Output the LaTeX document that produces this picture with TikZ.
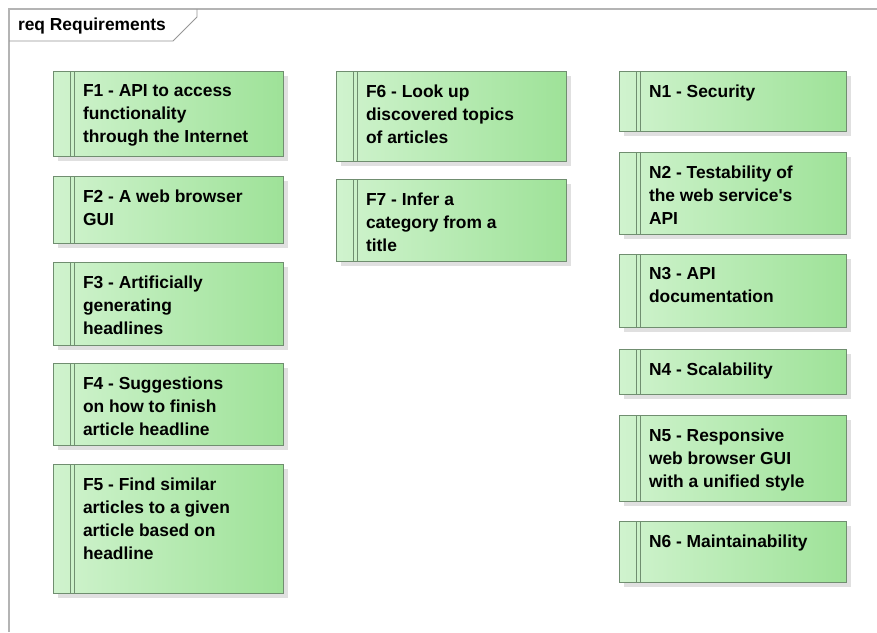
\documentclass[tikz,border=0pt]{standalone}
\usepackage{fontspec}
\setmainfont{Liberation Sans}[Ligatures=TeXOff]
\definecolor{gl}{RGB}{208,243,206}
\definecolor{gr}{RGB}{158,226,152}
\definecolor{bd}{RGB}{112,142,112}
\definecolor{sh}{RGB}{224,224,224}
\definecolor{fr}{RGB}{180,180,180}
\definecolor{tabc}{RGB}{150,150,150}
\tikzset{
  reqbody/.style={rectangle, draw=bd, line width=0.9pt, left color=gl, right color=gr, inner sep=0pt, outer sep=0pt},
  stripe/.style={draw=bd, line width=0.6pt},
  reqtext/.style={inner sep=0pt, outer sep=0pt, align=left, font=\bfseries\fontsize{17.4}{23}\selectfont},
  framel/.style={draw=fr, line width=1.6pt},
  tabl/.style={draw=tabc, line width=0.8pt},
  shadowc/.style={fill=sh}
}
\newcommand\reqbox[6]{%
  \fill[shadowc] (#2+5,-#3-5) rectangle ++(#4,-#5);
  \node[reqbody, minimum width=#4, minimum height=#5, anchor=north west] (#1) at (#2,-#3) {};
  \draw[stripe] ([xshift=17]#1.north west) -- ([xshift=17]#1.south west);
  \draw[stripe] ([xshift=21]#1.north west) -- ([xshift=21]#1.south west);
  \node[reqtext, anchor=north west] (#1-t) at ([xshift=30,yshift=-13.5]#1.north west) {#6};
}
\begin{document}
\begin{tikzpicture}[x=1pt,y=1pt]
  \useasboundingbox (0,0) rectangle (877,-632);
  \fill[white] (0,0) rectangle (877,-632);
  % frame
  \coordinate (ftl) at (9,-9);
  \coordinate (fbl) at (9,-632);
  \coordinate (ftr) at (877,-9);
  \draw[framel] (fbl) -- (ftl) -- (ftr);
  \coordinate (tab1) at (9,-41);
  \coordinate (tab2) at (173,-41);
  \coordinate (tab3) at (197,-17);
  \coordinate (tab4) at (197,-9);
  \draw[tabl] (tab1) -- (tab2) -- (tab3) -- (tab4);
  \node[reqtext, anchor=base west] (title) at (18,-30) {req Requirements};
  % column 1
  \reqbox{F1}{53}{71}{230}{85}{F1 - API to access\\functionality\\through the Internet}
  \reqbox{F2}{53}{176}{230}{67}{F2 - A web browser\\GUI}
  \reqbox{F3}{53}{262}{230}{83}{F3 - Artificially\\generating\\headlines}
  \reqbox{F4}{53}{363}{230}{82}{F4 - Suggestions\\on how to finish\\article headline}
  \reqbox{F5}{53}{464}{230}{129}{F5 - Find similar\\articles to a given\\article based on\\headline}
  % column 2
  \reqbox{F6}{336}{71}{230}{90}{F6 - Look up\\discovered topics\\of articles}
  \reqbox{F7}{336}{179}{230}{82}{F7 - Infer a\\category from a\\title}
  % column 3
  \reqbox{N1}{619}{71}{227}{60}{N1 - Security}
  \reqbox{N2}{619}{152}{227}{82}{N2 - Testability of\\the web service's\\API}
  \reqbox{N3}{619}{254}{227}{73}{N3 - API\\documentation}
  \reqbox{N4}{619}{349}{227}{45}{N4 - Scalability}
  \reqbox{N5}{619}{415}{227}{86}{N5 - Responsive\\web browser GUI\\with a unified style}
  \reqbox{N6}{619}{521}{227}{61}{N6 - Maintainability}
\end{tikzpicture}
\end{document}
